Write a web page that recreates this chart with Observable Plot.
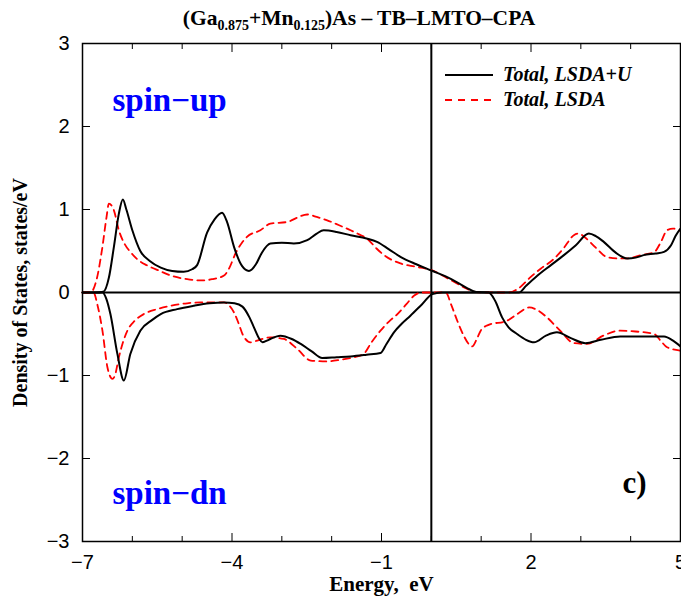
<!DOCTYPE html>
<html><head><meta charset="utf-8">
<script src="https://cdn.jsdelivr.net/npm/d3@7"></script>
<script src="https://cdn.jsdelivr.net/npm/@observablehq/plot@0.6"></script>
<style>
body{margin:0;background:#fff;}
#wrap{position:relative;width:681px;height:600px;}
</style></head><body><div id="wrap"></div>
<script>
// Energy (eV) and DOS (states/eV) pairs
const lsdaU_up = [[-7,0],[-6.75,0],[-6.58,0.01],[-6.47,0.18],[-6.37,0.55],[-6.27,0.95],[-6.19,1.12],[-6.12,1.0],[-6.0,0.75],[-5.84,0.5],[-5.65,0.38],[-5.43,0.3],[-5.2,0.26],[-4.97,0.25],[-4.8,0.28],[-4.7,0.33],[-4.5,0.72],[-4.35,0.88],[-4.2,0.96],[-4.1,0.85],[-3.96,0.55],[-3.8,0.32],[-3.66,0.26],[-3.52,0.34],[-3.4,0.48],[-3.23,0.59],[-3.0,0.6],[-2.76,0.59],[-2.49,0.63],[-2.3,0.71],[-2.16,0.75],[-1.9,0.73],[-1.62,0.69],[-1.3,0.65],[-1.09,0.61],[-0.85,0.52],[-0.62,0.43],[-0.3,0.34],[0,0.265],[0.39,0.165],[0.7,0.06],[0.9,0.005],[1.2,0],[1.5,0],[1.76,0],[1.9,0.08],[2.12,0.2],[2.4,0.33],[2.66,0.45],[2.9,0.57],[3.16,0.71],[3.3,0.68],[3.46,0.61],[3.7,0.48],[3.93,0.41],[4.1,0.42],[4.26,0.45],[4.5,0.47],[4.67,0.49],[4.81,0.57],[4.9,0.68],[5.0,0.77]];
const lsdaU_dn = [[-7,0],[-6.6,0],[-6.52,-0.08],[-6.44,-0.26],[-6.3,-0.74],[-6.17,-1.06],[-6.04,-0.74],[-5.84,-0.46],[-5.6,-0.33],[-5.43,-0.26],[-5.1,-0.2],[-4.77,-0.16],[-4.45,-0.13],[-4.16,-0.12],[-3.95,-0.13],[-3.79,-0.17],[-3.65,-0.3],[-3.56,-0.42],[-3.45,-0.56],[-3.39,-0.6],[-3.3,-0.58],[-3.23,-0.56],[-3.03,-0.52],[-2.8,-0.56],[-2.62,-0.62],[-2.4,-0.71],[-2.19,-0.79],[-1.9,-0.78],[-1.62,-0.77],[-1.3,-0.75],[-1.02,-0.73],[-0.9,-0.62],[-0.75,-0.48],[-0.6,-0.38],[-0.42,-0.28],[-0.2,-0.15],[0.02,-0.02],[0.2,0],[0.6,0],[1.0,0],[1.15,0],[1.28,-0.1],[1.42,-0.3],[1.55,-0.42],[1.72,-0.5],[1.9,-0.57],[2.06,-0.6],[2.3,-0.52],[2.52,-0.48],[2.8,-0.55],[3.09,-0.61],[3.4,-0.57],[3.79,-0.53],[4.2,-0.53],[4.67,-0.53],[4.85,-0.58],[5.0,-0.65]];
const lsda_up = [[-7,0],[-6.84,0],[-6.72,0.15],[-6.6,0.55],[-6.52,0.9],[-6.47,1.07],[-6.42,1.05],[-6.37,0.99],[-6.27,0.75],[-6.15,0.58],[-6.04,0.49],[-5.9,0.4],[-5.7,0.325],[-5.45,0.26],[-5.23,0.205],[-4.9,0.16],[-4.63,0.145],[-4.4,0.16],[-4.16,0.205],[-4.05,0.3],[-3.93,0.47],[-3.8,0.6],[-3.7,0.67],[-3.43,0.75],[-3.23,0.83],[-2.89,0.85],[-2.7,0.9],[-2.49,0.94],[-2.3,0.91],[-2.09,0.87],[-1.85,0.81],[-1.62,0.75],[-1.45,0.7],[-1.29,0.65],[-1.1,0.53],[-0.95,0.45],[-0.62,0.35],[-0.3,0.31],[0,0.27],[0.39,0.15],[0.7,0.05],[0.89,0.005],[1.2,0],[1.56,0],[1.75,0.05],[1.99,0.185],[2.2,0.29],[2.46,0.405],[2.65,0.53],[2.86,0.69],[2.96,0.71],[3.06,0.675],[3.3,0.54],[3.53,0.425],[3.75,0.41],[3.93,0.41],[4.2,0.45],[4.47,0.485],[4.6,0.6],[4.73,0.75],[4.85,0.77],[5.0,0.74]];
const lsda_dn = [[-7,0],[-6.78,0],[-6.7,-0.15],[-6.6,-0.46],[-6.5,-0.9],[-6.4,-1.04],[-6.35,-1.0],[-6.27,-0.78],[-6.1,-0.46],[-5.95,-0.34],[-5.77,-0.26],[-5.5,-0.2],[-5.23,-0.16],[-4.9,-0.13],[-4.63,-0.12],[-4.16,-0.12],[-4.05,-0.16],[-3.96,-0.24],[-3.85,-0.4],[-3.79,-0.5],[-3.63,-0.6],[-3.45,-0.57],[-3.23,-0.54],[-2.96,-0.56],[-2.69,-0.68],[-2.42,-0.82],[-2.1,-0.83],[-1.82,-0.81],[-1.55,-0.78],[-1.36,-0.74],[-1.2,-0.6],[-1.02,-0.46],[-0.85,-0.35],[-0.68,-0.26],[-0.5,-0.14],[-0.35,-0.04],[-0.2,0],[0.29,0],[0.4,-0.15],[0.52,-0.34],[0.65,-0.52],[0.75,-0.62],[0.82,-0.65],[0.92,-0.55],[1.0,-0.45],[1.15,-0.39],[1.52,-0.34],[1.75,-0.25],[1.96,-0.18],[2.15,-0.22],[2.32,-0.3],[2.6,-0.47],[2.86,-0.61],[3.13,-0.62],[3.45,-0.52],[3.79,-0.46],[4.1,-0.47],[4.47,-0.5],[4.6,-0.58],[4.73,-0.66],[5.0,-0.7]];

const xMajor = [-7, -4, -1, 2, 5];
const xMinor = [-6, -5, -3, -2, 0, 1, 3, 4];
const yTicks = [-3, -2, -1, 0, 1, 2, 3];
const fermiLevel = [0];
const zeroLevel = [0];
const legendItems = [
  {label: "Total, LSDA+U", color: "#000000", dash: null},
  {label: "Total, LSDA", color: "#ff0000", dash: "7,6"}
];
const xLabel = "Energy,  eV";
const yLabel = "Density of States, states/eV";

const serif = "'Liberation Serif', 'Times New Roman', serif";
const sans = "'Liberation Sans', Arial, sans-serif";
const blank = () => "";
const intFmt = d3.format("d");

const plot = Plot.plot({
  width: 681, height: 600,
  marginLeft: 82, marginRight: 1, marginTop: 43, marginBottom: 59,
  x: {domain: [-7, 5], label: null},
  y: {domain: [-3, 3], label: null},
  style: {fontFamily: sans, fontSize: "20px", background: "white", overflow: "visible", color: "black"},
  marks: [
    Plot.ruleY(zeroLevel, {stroke: "black", strokeWidth: 2}),
    Plot.ruleX(fermiLevel, {stroke: "black", strokeWidth: 2}),
    Plot.line(lsda_up, {x: d => d[0], y: d => d[1], stroke: "#ff0000", strokeWidth: 1.8, strokeDasharray: "7,5", curve: "monotone-x"}),
    Plot.line(lsda_dn, {x: d => d[0], y: d => d[1], stroke: "#ff0000", strokeWidth: 1.8, strokeDasharray: "7,5", curve: "monotone-x"}),
    Plot.line(lsdaU_up, {x: d => d[0], y: d => d[1], stroke: "black", strokeWidth: 2, curve: "monotone-x"}),
    Plot.line(lsdaU_dn, {x: d => d[0], y: d => d[1], stroke: "black", strokeWidth: 2, curve: "monotone-x"}),
    Plot.frame({stroke: "black", strokeWidth: 1.5}),
    Plot.axisX({anchor: "bottom", ticks: xMajor, tickSize: -8, tickFormat: blank, label: null}),
    Plot.axisX({anchor: "bottom", ticks: xMinor, tickSize: -5, tickFormat: blank, label: null}),
    Plot.axisX({anchor: "top", ticks: xMajor, tickSize: -8, tickFormat: blank, label: null}),
    Plot.axisX({anchor: "top", ticks: xMinor, tickSize: -5, tickFormat: blank, label: null}),
    Plot.axisX({anchor: "bottom", ticks: xMajor, tickSize: 0, tickPadding: 13, tickFormat: intFmt, label: null, fontSize: 20}),
    Plot.axisY({anchor: "left", ticks: yTicks, tickSize: -8, tickFormat: blank, label: null}),
    Plot.axisY({anchor: "right", ticks: yTicks, tickSize: -8, tickFormat: blank, label: null}),
    Plot.axisY({anchor: "left", ticks: yTicks, tickSize: 0, tickPadding: 13, tickFormat: intFmt, label: null, fontSize: 20}),
    Plot.text([xLabel], {text: d => d, frameAnchor: "bottom", dy: 49, fontFamily: serif, fontWeight: "bold", fontSize: 21}),
    Plot.text([yLabel], {text: d => d, frameAnchor: "left", textAnchor: "middle", dx: -62, rotate: -90, fontFamily: serif, fontWeight: "bold", fontSize: 20}),
    Plot.text(["spin\u2212up"], {text: d => d, frameAnchor: "top-left", textAnchor: "start", lineAnchor: "bottom", dx: 30, dy: 67, fill: "#0000ff", fontFamily: serif, fontWeight: "bold", fontSize: 33}),
    Plot.text(["spin\u2212dn"], {text: d => d, frameAnchor: "bottom-left", textAnchor: "start", lineAnchor: "bottom", dx: 30, dy: -38, fill: "#0000ff", fontFamily: serif, fontWeight: "bold", fontSize: 33}),
    Plot.text(["c)"], {text: d => d, frameAnchor: "bottom-right", textAnchor: "end", lineAnchor: "bottom", dx: -34, dy: -49, fill: "black", fontFamily: serif, fontWeight: "bold", fontSize: 31})
  ]
});
document.getElementById("wrap").appendChild(plot);

const svg = d3.select(plot);
// Title with subscripts
const title = svg.append("text").attr("x", 359).attr("y", 25).attr("text-anchor", "middle")
  .attr("font-family", serif).attr("font-weight", "bold").attr("font-size", 21.5).attr("fill", "black");
const parts = [["(Ga", 0], ["0.875", 1], ["+Mn", 0], ["0.125", 1], [")As \u2013 TB\u2013LMTO\u2013CPA", 0]];
let prevSub = 0;
for (const [t, sub] of parts) {
  const dy = sub && !prevSub ? 5 : (!sub && prevSub ? -5 : 0);
  title.append("tspan").attr("dy", dy).attr("font-size", sub ? 14 : 21.5).text(t);
  prevSub = sub;
}
// Legend
const lg = svg.append("g").attr("text-anchor", "start");
legendItems.forEach((it, i) => {
  const y = 75 + i * 25;
  lg.append("line").attr("x1", 445).attr("x2", 493).attr("y1", y).attr("y2", y)
    .attr("stroke", it.color).attr("stroke-width", 2).attr("stroke-dasharray", it.dash);
  lg.append("text").attr("x", 503).attr("y", y + 6).attr("text-anchor", "start").attr("font-family", serif)
    .attr("font-weight", "bold").attr("font-style", "italic").attr("font-size", 20).attr("fill", "black").text(it.label);
});
</script></body></html>
